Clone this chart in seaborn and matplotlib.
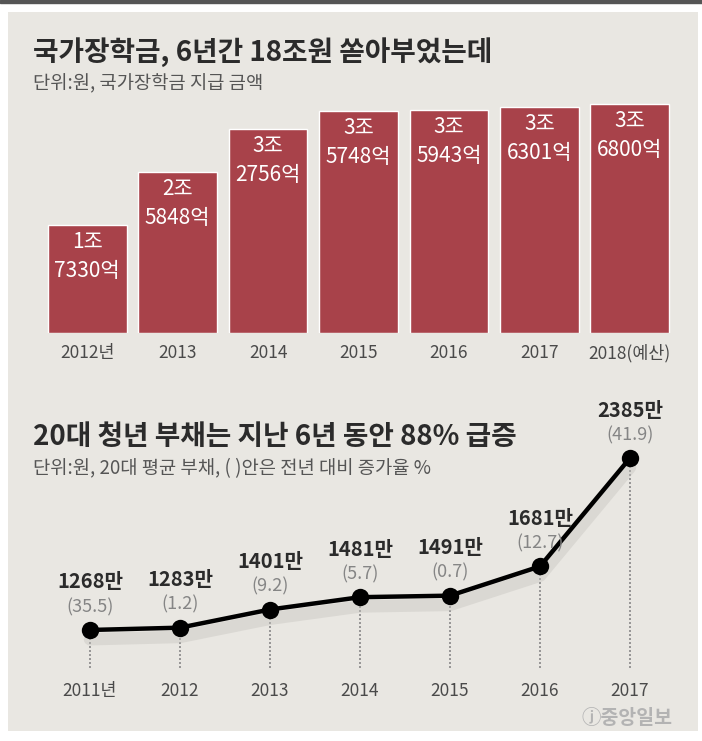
import seaborn as sns
import pandas as pd
import matplotlib.pyplot as plt

# 국가장학금 (조원)
bar_years = ['2012년', '2013', '2014', '2015', '2016', '2017', '2018(예산)']
bar_vals = [1.7330, 2.5848, 3.2756, 3.5748, 3.5943, 3.6301, 3.6800]
bar_jo = ['1조', '2조', '3조', '3조', '3조', '3조', '3조']
bar_eok = ['7330억', '5848억', '2756억', '5748억', '5943억', '6301억', '6800억']

# 20대 평균 부채 (만원)
line_years = ['2011년', '2012', '2013', '2014', '2015', '2016', '2017']
line_vals = [1268, 1283, 1401, 1481, 1491, 1681, 2385]
line_pct = ['(35.5)', '(1.2)', '(9.2)', '(5.7)', '(0.7)', '(12.7)', '(41.9)']

BG = '#e9e7e2'
RED = '#a8424a'
DARK = '#2b2b2b'

sns.set_theme(style='white')
plt.rcParams['font.family'] = ['Noto Sans CJK KR', 'DejaVu Sans']

W, H = 702, 741
fig = plt.figure(figsize=(W / 100, H / 100), dpi=100)
fig.patch.set_facecolor('white')

def fx(px):
    return px / W

def fy(py):
    return 1 - py / H

# panel background and top rule
bg = fig.add_axes([fx(8), fy(731), fx(690), (731 - 12) / H], zorder=0)
bg.set_facecolor(BG)
bg.set_xticks([])
bg.set_yticks([])
for s in bg.spines.values():
    s.set_visible(False)
fig.patches.append(plt.Rectangle((0, fy(3)), 1, 3 / H, transform=fig.transFigure,
                                 color='#555555', zorder=0))

# ---- bar chart ----
ax1 = fig.add_axes([fx(42), fy(333), fx(675) - fx(42), (333 - 103) / H], zorder=2)
ax1.set_facecolor('none')
df1 = pd.DataFrame({'year': bar_years, 'val': bar_vals})
sns.barplot(data=df1, x='year', y='val', color=RED, saturation=1, width=0.87, ax=ax1)
ax1.set_ylim(0, 3.7)
ax1.set_xlim(-0.5, 6.5)
for i, v in enumerate(bar_vals):
    ax1.annotate(bar_jo[i], (i, v), xytext=(0, -17), textcoords='offset pixels',
                 ha='center', va='center', color='white', fontsize=15)
    ax1.annotate(bar_eok[i], (i, v), xytext=(0, -46), textcoords='offset pixels',
                 ha='center', va='center', color='white', fontsize=15)
ax1.set_xlabel('')
ax1.set_ylabel('')
ax1.set_yticks([])
ax1.tick_params(axis='x', length=0, pad=8, labelsize=12.5, labelcolor='#4a4a4a')
sns.despine(ax=ax1, left=True, bottom=True)

fig.text(fx(33), fy(52), '국가장학금, 6년간 18조원 쏟아부었는데', fontsize=20,
         fontweight='bold', color=DARK, va='center', zorder=3)
fig.text(fx(33), fy(84), '단위:원, 국가장학금 지급 금액', fontsize=13.5,
         color='#555555', va='center', zorder=3)

# ---- line chart ----
ax2 = fig.add_axes([fx(45), fy(668), fx(675) - fx(45), (668 - 400) / H], zorder=2)
ax2.set_facecolor('none')
df2 = pd.DataFrame({'year': line_years, 'val': line_vals})
xs = list(range(len(line_vals)))
ax2.vlines(xs, 1021, line_vals, colors='#888888', linestyles=(0, (1.2, 1.2)),
           linewidth=1.2, zorder=1)
# faint shadow under the line
ax2.plot(xs, [v - 60 for v in line_vals], color='#c4c2bd',
         linewidth=9, alpha=0.4, zorder=1, solid_capstyle='round')
sns.lineplot(data=df2, x='year', y='val', color='black', linewidth=3.2,
             marker='o', markersize=12.5, markeredgewidth=0, sort=False, ax=ax2, zorder=3)
ax2.set_ylim(1021, 2762)
ax2.set_xlim(-0.5, 6.5)
for i, (v, p) in enumerate(zip(line_vals, line_pct)):
    ax2.annotate(p, (i, v), xytext=(0, 23), textcoords='offset pixels',
                 ha='center', va='center', fontsize=13, color='#858585')
    ax2.annotate(f'{v}만', (i, v), xytext=(0, 48), textcoords='offset pixels',
                 ha='center', va='center', fontsize=14.5, fontweight='bold',
                 color=DARK)
ax2.set_xlabel('')
ax2.set_ylabel('')
ax2.set_yticks([])
ax2.tick_params(axis='x', length=0, pad=10, labelsize=12.5, labelcolor='#4a4a4a')
sns.despine(ax=ax2, left=True, bottom=True)

fig.text(fx(33), fy(437), '20대 청년 부채는 지난 6년 동안 88% 급증', fontsize=20,
         fontweight='bold', color=DARK, va='center', zorder=3)
fig.text(fx(33), fy(469), '단위:원, 20대 평균 부채, ( )안은 전년 대비 증가율 %',
         fontsize=13.5, color='#555555', va='center', zorder=3)

fig.text(fx(672), fy(718), 'ⓙ중앙일보', fontsize=14, color='#b3b3b3',
         ha='right', va='center', fontweight='bold', zorder=3)

fig.savefig('out.png', dpi=100, facecolor=fig.get_facecolor())
